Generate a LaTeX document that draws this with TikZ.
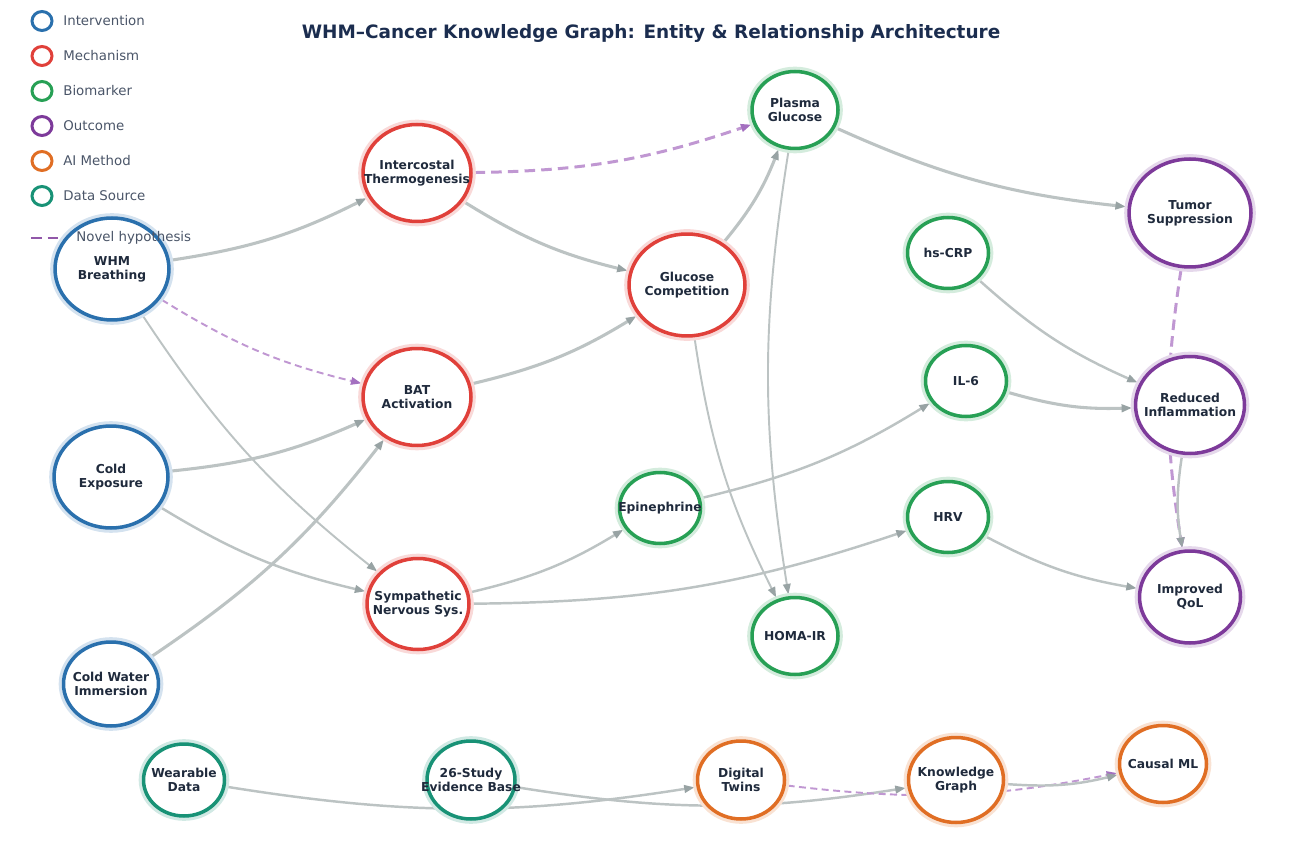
\documentclass[tikz,border=0pt]{standalone}
\usepackage{fontspec}
\setmainfont{DejaVu Sans}
\usetikzlibrary{shapes.geometric,arrows.meta}
\pgfdeclarelayer{background}
\pgfsetlayers{background,main}
\definecolor{cInt}{HTML}{2A70AD}
\definecolor{cMec}{HTML}{E0403A}
\definecolor{cBio}{HTML}{27A055}
\definecolor{cOut}{HTML}{7D3A9A}
\definecolor{cAI}{HTML}{E06E24}
\definecolor{cDat}{HTML}{189276}
\definecolor{edgec}{HTML}{BCC3C3}
\definecolor{tipc}{HTML}{98A3A4}
\definecolor{hypc}{HTML}{C097D2}
\definecolor{hyptip}{HTML}{A470C0}
\definecolor{labc}{HTML}{1F2A3C}
\definecolor{titc}{HTML}{1B2D4F}
\definecolor{legc}{HTML}{4A5568}
\tikzset{
  ent/.style={ellipse, draw=#1, line width=2pt, fill=white,
    preaction={draw=#1!20, line width=5.5pt}, inner sep=0pt, outer sep=2pt},
  lab/.style={font=\fontsize{7}{8}\selectfont\bfseries, text=labc, align=center},
  rel/.style={draw=edgec, line width=1.4pt, bend right=9,
    -{Triangle[length=0.21cm,width=0.15cm,color=tipc]}},
  thk/.style={line width=1.75pt},
  thn/.style={line width=1.1pt},
  hyp/.style={draw=hypc, line width=1.1pt, dash pattern=on 4pt off 2.5pt, bend right=9,
    -{Triangle[length=0.21cm,width=0.15cm,color=hyptip]}},
  hypthick/.style={line width=1.7pt, dash pattern=on 6pt off 3.5pt},
  legring/.style={ellipse, draw=#1, line width=1.7pt, minimum width=0.4cm, minimum height=0.38cm, inner sep=0pt},
  legtxt/.style={anchor=west, font=\fontsize{7.6}{9}\selectfont, text=legc, inner sep=0pt},
}
\begin{document}
\begin{tikzpicture}[x=0.02cm,y=-0.02cm]
\useasboundingbox (0,0) rectangle (1290,854);
% title
\node[font=\fontsize{10.5}{12}\selectfont\bfseries, text=titc] (title) at (651,33) {WHM–Cancer Knowledge Graph: Entity \& Relationship Architecture};
% nodes
\node[ent=cInt, minimum width=2.28cm, minimum height=2.04cm, label={[lab]center:WHM\\Breathing}] (whm) at (112,269) {};
\node[ent=cInt, minimum width=2.28cm, minimum height=2.04cm, label={[lab]center:Cold\\Exposure}] (cold) at (111,477) {};
\node[ent=cInt, minimum width=1.9cm, minimum height=1.68cm, label={[lab]center:Cold Water\\Immersion}] (cwi) at (111,684) {};
\node[ent=cMec, minimum width=2.16cm, minimum height=1.94cm, label={[lab]center:Intercostal\\Thermogenesis}] (inter) at (417,173) {};
\node[ent=cMec, minimum width=2.16cm, minimum height=1.94cm, label={[lab]center:BAT\\Activation}] (bat) at (417,397) {};
\node[ent=cMec, minimum width=2.04cm, minimum height=1.82cm, label={[lab]center:Sympathetic\\Nervous Sys.}] (sns) at (418,604) {};
\node[ent=cMec, minimum width=2.32cm, minimum height=2.04cm, label={[lab]center:Glucose\\Competition}] (gcomp) at (687,285) {};
\node[ent=cBio, minimum width=1.72cm, minimum height=1.54cm, label={[lab]center:Plasma\\Glucose}] (pglu) at (795,110) {};
\node[ent=cBio, minimum width=1.62cm, minimum height=1.42cm, label={[lab]center:hs-CRP}] (crp) at (948,253) {};
\node[ent=cBio, minimum width=1.62cm, minimum height=1.42cm, label={[lab]center:IL-6}] (il6) at (966,381) {};
\node[ent=cBio, minimum width=1.62cm, minimum height=1.42cm, label={[lab]center:Epinephrine}] (epi) at (660,508) {};
\node[ent=cBio, minimum width=1.62cm, minimum height=1.42cm, label={[lab]center:HRV}] (hrv) at (948,517) {};
\node[ent=cBio, minimum width=1.72cm, minimum height=1.54cm, label={[lab]center:HOMA-IR}] (homa) at (795,636) {};
\node[ent=cOut, minimum width=2.44cm, minimum height=2.16cm, label={[lab]center:Tumor\\Suppression}] (tumor) at (1190,213) {};
\node[ent=cOut, minimum width=2.18cm, minimum height=1.94cm, label={[lab]center:Reduced\\Inflammation}] (rinf) at (1190,405) {};
\node[ent=cOut, minimum width=2.02cm, minimum height=1.84cm, label={[lab]center:Improved\\QoL}] (qol) at (1190,597) {};
\node[ent=cDat, minimum width=1.62cm, minimum height=1.44cm, label={[lab]center:Wearable\\Data}] (wear) at (184,780) {};
\node[ent=cDat, minimum width=1.76cm, minimum height=1.56cm, label={[lab]center:26-Study\\Evidence Base}] (study) at (471,780) {};
\node[ent=cAI, minimum width=1.74cm, minimum height=1.56cm, label={[lab]center:Digital\\Twins}] (dt) at (741,780) {};
\node[ent=cAI, minimum width=1.9cm, minimum height=1.7cm, label={[lab]center:Knowledge\\Graph}] (kg) at (956,780) {};
\node[ent=cAI, minimum width=1.74cm, minimum height=1.54cm, label={[lab]center:Causal ML}] (cml) at (1163,764) {};
% edges
\begin{pgfonlayer}{background}
\draw[rel,thk] (whm) to (inter);
\draw[hyp] (whm) to (bat);
\draw[rel,thn] (whm) to (sns);
\draw[rel,thk] (cold) to (bat);
\draw[rel] (cold) to (sns);
\draw[rel,thk] (cwi) to (bat);
\draw[hyp,hypthick] (inter) to (pglu);
\draw[rel,thk] (inter) to (gcomp);
\draw[rel,thk] (bat) to (gcomp);
\draw[rel,thk] (gcomp) to (pglu);
\draw[rel,thn] (gcomp) to (homa);
\draw[rel,thn] (pglu) to (homa);
\draw[rel,thk] (pglu) to (tumor);
\draw[rel] (sns) to (epi);
\draw[rel] (sns) to (hrv);
\draw[rel] (epi) to (il6);
\draw[rel] (crp) to (rinf);
\draw[rel,thk] (il6) to (rinf);
\draw[rel] (hrv) to (qol);
\draw[hyp,hypthick] (tumor) to (qol);
\draw[rel] (rinf) to (qol);
\draw[rel] (wear) to (dt);
\draw[rel] (study) to (kg);
\draw[hyp] (dt) to (cml);
\draw[rel] (kg) to (cml);
\end{pgfonlayer}
% legend
\node[legring=cInt] (l1) at (42,21) {};
\node[legtxt] (t1) at (63,21) {Intervention};
\node[legring=cMec] (l2) at (42,56) {};
\node[legtxt] (t2) at (63,56) {Mechanism};
\node[legring=cBio] (l3) at (42,91) {};
\node[legtxt] (t3) at (63,91) {Biomarker};
\node[legring=cOut] (l4) at (42,126) {};
\node[legtxt] (t4) at (63,126) {Outcome};
\node[legring=cAI] (l5) at (42,161) {};
\node[legtxt] (t5) at (63,161) {AI Method};
\node[legring=cDat] (l6) at (42,196) {};
\node[legtxt] (t6) at (63,196) {Data Source};
\coordinate (h1) at (31,238);
\coordinate (h2) at (64,238);
\draw[cOut!85, line width=1.7pt, dash pattern=on 6pt off 3.5pt] (h1) -- (h2);
\node[legtxt] (t7) at (76,238) {Novel hypothesis};
\end{tikzpicture}
\end{document}
